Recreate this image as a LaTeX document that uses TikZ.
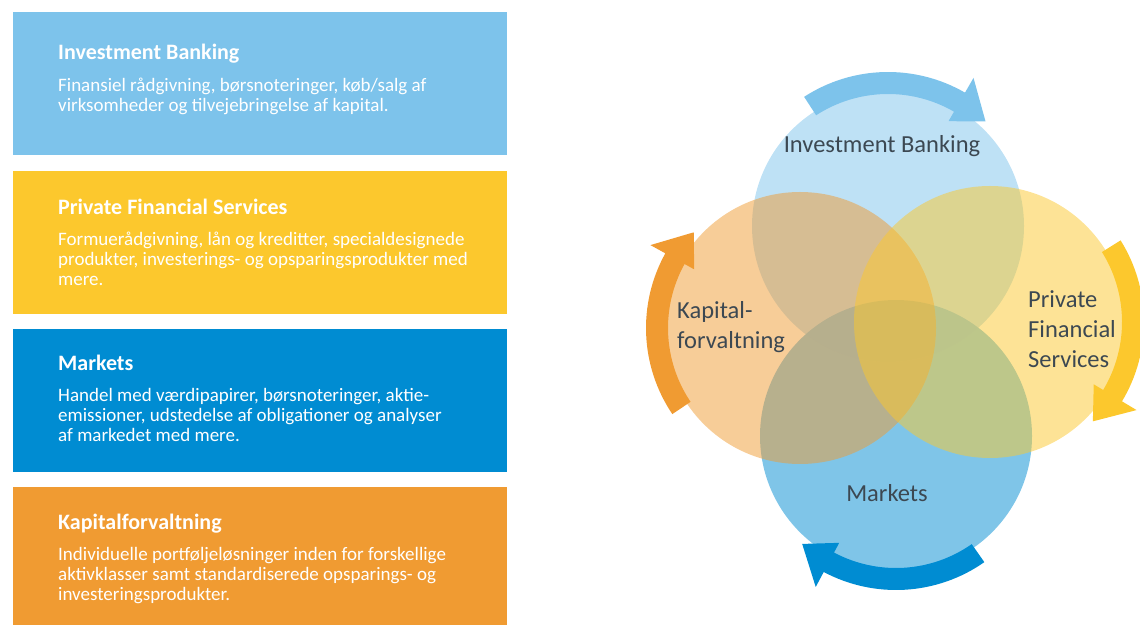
\documentclass[tikz,border=0pt]{standalone}
\usepackage{fontspec}
\setmainfont{Carlito}
\usetikzlibrary{positioning, calc}
\definecolor{ibblue}{RGB}{125,195,235}
\definecolor{pfsyellow}{RGB}{252,200,45}
\definecolor{mktblue}{RGB}{0,140,210}
\definecolor{kaporange}{RGB}{240,155,50}
\definecolor{labelgray}{RGB}{60,72,82}

\begin{document}
\begin{tikzpicture}[x=1pt, y=1pt,
    infobox/.style={minimum width=494pt, minimum height=143pt, inner sep=0pt, anchor=north west},
    boxtitle/.style={anchor=base west, inner sep=0pt, text=white, font=\fontsize{22}{26}\selectfont\bfseries},
    boxtext/.style={anchor=north west, inner sep=0pt, text=white, align=left, font=\fontsize{19}{20}\selectfont},
    venn/.style={circle, minimum size=272pt, inner sep=0pt, fill opacity=.5},
    vennlabel/.style={inner sep=0pt, text=labelgray, align=left, font=\fontsize{24.5}{30}\selectfont}]
\useasboundingbox (0,0) rectangle (1140,624);
% left column
\node[infobox, fill=ibblue] (ibbox) at (13,612) {};
\node[infobox, fill=pfsyellow, below=15pt of ibbox] (pfsbox) {};
\node[infobox, fill=mktblue, below=15pt of pfsbox] (mktbox) {};
\node[infobox, fill=kaporange, below=15pt of mktbox] (kapbox) {};
\node[boxtitle] (ibtitle) at ([shift={(45pt,-48pt)}]ibbox.north west) {Investment Banking};
\node[boxtext] (ibtext) at ([yshift=-17.5pt]ibtitle.base west) {Finansiel rådgivning, børsnoteringer, køb/salg af\\virksomheder og tilvejebringelse af kapital.};
\node[boxtitle] (pfstitle) at ([shift={(45pt,-44pt)}]pfsbox.north west) {Private Financial Services};
\node[boxtext] (pfstext) at ([yshift=-17.5pt]pfstitle.base west) {Formuerådgivning, lån og kreditter, specialdesignede\\produkter, investerings- og opsparingsprodukter med\\mere.};
\node[boxtitle] (mkttitle) at ([shift={(45pt,-42pt)}]mktbox.north west) {Markets};
\node[boxtext] (mkttext) at ([yshift=-17.5pt]mkttitle.base west) {Handel med værdipapirer, børsnoteringer, aktie-\\emissioner, udstedelse af obligationer og analyser\\af markedet med mere.};
\node[boxtitle] (kaptitle) at ([shift={(45pt,-42pt)}]kapbox.north west) {Kapitalforvaltning};
\node[boxtext] (kaptext) at ([yshift=-17.5pt]kaptitle.base west) {Individuelle portføljeløsninger inden for forskellige\\aktivklasser samt standardiserede opsparings- og\\investeringsprodukter.};
% circles, Markets at the bottom of the stack
\node[venn, fill=mktblue] (mktc) at (896,188) {};
\node[venn, fill=ibblue] (ibc) at (888,398) {};
\node[venn, fill=kaporange] (kapc) at (800,296) {};
\node[venn, fill=pfsyellow] (pfsc) at (990,302) {};
\foreach \c/\a/\col in {ibc/123/ibblue, pfsc/32/pfsyellow, mktc/-55/mktblue, kapc/214/kaporange}
{
    \pgfmathsetmacro\headang{\a-63}
    \pgfmathsetmacro\tipang{\a-76}
    \fill[\col] ($(\c.center)+(\a:154)$) arc[start angle=\a, end angle=\headang, radius=154]
        -- ($(\c.center)+(\headang:171)$) -- ($(\c.center)+(\tipang:143)$) -- ($(\c.center)+(\headang:121)$)
        -- ($(\c.center)+(\headang:132)$) arc[start angle=\headang, end angle=\a, radius=132] -- cycle;
}
\node[vennlabel] (iblabel) at (882,478) {Investment Banking};
\node[vennlabel, anchor=west] (kaplabel) at (677,297) {Kapital-\\forvaltning};
\node[vennlabel, anchor=west] (pfslabel) at (1028,295) {Private\\Financial\\Services};
\node[vennlabel] (mktlabel) at (887,131) {Markets};
\end{tikzpicture}
\end{document}
